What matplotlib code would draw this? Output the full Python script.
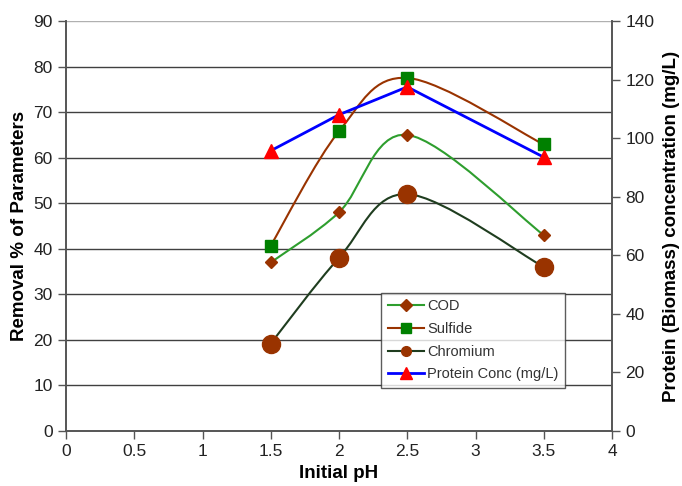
import matplotlib
matplotlib.use("Agg")
import matplotlib.pyplot as plt
from matplotlib.path import Path
from matplotlib.patches import PathPatch
from matplotlib.lines import Line2D

plt.rcParams["font.family"] = ["Liberation Sans", "DejaVu Sans"]

ph = [1.5, 2.0, 2.5, 3.5]
cod = [37, 48, 65, 43]
sulfide = [40.7, 65.8, 77.5, 62.9]
chromium = [19.2, 38, 52, 36]
protein = [95.7, 108, 117.5, 93.5]

brown = "#993300"


def smooth_path(x, y):
    """Catmull-Rom style cubic Bezier through the points (like Excel's smoothed line)."""
    verts = [(x[0], y[0])]
    codes = [Path.MOVETO]
    n = len(x)
    for i in range(n - 1):
        x0, y0 = (x[i - 1], y[i - 1]) if i > 0 else (x[i], y[i])
        x1, y1 = x[i], y[i]
        x2, y2 = x[i + 1], y[i + 1]
        x3, y3 = (x[i + 2], y[i + 2]) if i + 2 < n else (x2, y2)
        c1 = (x1 + (x2 - x0) / 6, y1 + (y2 - y0) / 6)
        c2 = (x2 - (x3 - x1) / 6, y2 - (y3 - y1) / 6)
        verts += [c1, c2, (x2, y2)]
        codes += [Path.CURVE4] * 3
    return Path(verts, codes)


fig = plt.figure(figsize=(6.82, 4.86), dpi=100)
ax = fig.add_axes([66 / 682, 1 - 431 / 486, 546 / 682, 410 / 486])

ax.set_xlim(0, 4)
ax.set_ylim(0, 90)
ax.set_xticks([0, 0.5, 1, 1.5, 2, 2.5, 3, 3.5, 4])
ax.set_xticklabels(["0", "0.5", "1", "1.5", "2", "2.5", "3", "3.5", "4"])
ax.set_yticks(range(0, 91, 10))
for v in range(10, 81, 10):
    ax.axhline(v, color="#404040", lw=1.0, zorder=1)
ax.axhline(90, color="#b0b0b0", lw=1.0, zorder=1)

# smoothed series on the left axis
series = [
    (cod, "#2e9e2e", "D", brown, 6, "COD"),
    (sulfide, brown, "s", "#008000", 8, "Sulfide"),
    (chromium, "#1f3d1f", "o", brown, 13, "Chromium"),
]
handles = []
for vals, lc, mk, mc, ms, name in series:
    ax.add_patch(PathPatch(smooth_path(ph, vals), fill=False, edgecolor=lc, lw=1.5, zorder=3))
    ax.plot(ph, vals, ls="none", marker=mk, ms=ms, color=mc, zorder=4)
    handles.append(Line2D([], [], color=lc, lw=1.5, marker=mk, ms=7 if mk != "D" else 6,
                          markerfacecolor=mc, markeredgecolor=mc, label=name))

ax2 = ax.twinx()
ax2.set_ylim(0, 140)
ax2.set_yticks(range(0, 141, 20))
ax2.plot(ph, protein, color="#0000ff", lw=2, marker="^", ms=10,
         markerfacecolor="#ff0000", markeredgecolor="#ff0000", zorder=4)
handles.append(Line2D([], [], color="#0000ff", lw=2, marker="^", ms=8,
                      markerfacecolor="#ff0000", markeredgecolor="#ff0000",
                      label="Protein Conc (mg/L)"))

for a in (ax, ax2):
    a.spines["top"].set_visible(False)
    for s in ("left", "right", "bottom"):
        a.spines[s].set_color("#555555")
        a.spines[s].set_linewidth(1.2)
    a.tick_params(direction="out", length=6, width=1, color="#555555",
                  labelsize=12.5, labelcolor="#222222")

ax.set_xlabel("Initial pH", fontsize=13.5, fontweight="bold", labelpad=4)
ax.set_ylabel("Removal % of Parameters", fontsize=13.5, fontweight="bold", labelpad=4)
ax2.set_ylabel("Protein (Biomass) concentration (mg/L)", fontsize=13.5, fontweight="bold", labelpad=6)

leg = ax2.legend(handles=handles, loc="lower left", bbox_to_anchor=(0.577, 0.105),
                 fontsize=10.5, frameon=True, fancybox=False, handlelength=2.5,
                 borderpad=0.45, labelspacing=0.6, handletextpad=0.2, borderaxespad=0)
leg.get_frame().set_edgecolor("#333333")
leg.get_frame().set_linewidth(1.0)
for t in leg.get_texts():
    t.set_color("#333333")

fig.savefig("out.png", dpi=100)
